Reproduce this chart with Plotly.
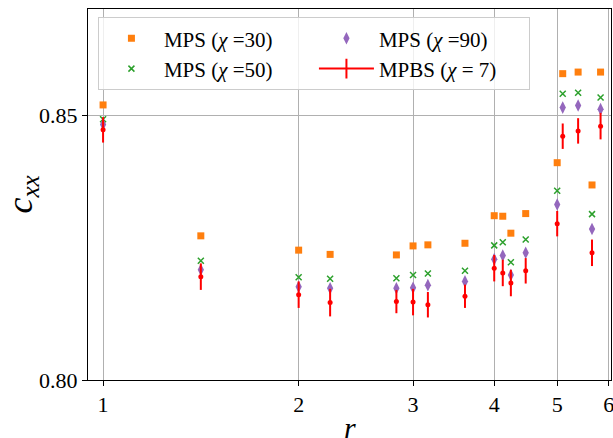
import plotly.graph_objects as go

r = [1.0, 1.414, 2.0, 2.236, 2.828, 3.0, 3.162, 3.606, 4.0, 4.123, 4.243, 4.472, 5.0, 5.099, 5.385, 5.657, 5.831]
chi30 = [0.8519, 0.8272, 0.8245, 0.8237, 0.8236, 0.8253, 0.8255, 0.8258, 0.8310, 0.8309, 0.8277, 0.8314, 0.8410, 0.8578, 0.8581, 0.8368, 0.8581]
chi50 = [0.8492, 0.8225, 0.8194, 0.8191, 0.8192, 0.8198, 0.8201, 0.8206, 0.8254, 0.8260, 0.8222, 0.8265, 0.8357, 0.8540, 0.8542, 0.8313, 0.8533]
chi90 = [0.8482, 0.8208, 0.8176, 0.8173, 0.8173, 0.8174, 0.8179, 0.8186, 0.8228, 0.8235, 0.8198, 0.8240, 0.8331, 0.8514, 0.8518, 0.8285, 0.8511]
mpbs = [0.8472, 0.8195, 0.8161, 0.8146, 0.8148, 0.8147, 0.8142, 0.8158, 0.8211, 0.8202, 0.8183, 0.8206, 0.8295, 0.8460, 0.8470, 0.8240, 0.8479]
mpbs_err = [0.0024, 0.0025, 0.0025, 0.0026, 0.0022, 0.0025, 0.0024, 0.0022, 0.0025, 0.0025, 0.0025, 0.0024, 0.0024, 0.0024, 0.0024, 0.0025, 0.0025]
x_ticks = [1, 2, 3, 4, 5, 6]
y_ticks = [0.80, 0.85]

FONT = "Liberation Serif"
ORANGE = "#ff7f0e"
GREEN = "#2ca02c"
PURPLE = "#9467bd"
RED = "#ff0000"

fig = go.Figure()
fig.add_trace(go.Scatter(x=r, y=chi30, mode="markers", name="MPS (<i>χ</i> =30)",
                         marker=dict(symbol="square", size=7, color=ORANGE), legendrank=1))
fig.add_trace(go.Scatter(x=r, y=chi50, mode="markers", name="MPS (<i>χ</i> =50)",
                         marker=dict(symbol="x-thin-open", size=6, color=GREEN, line=dict(color=GREEN, width=1.5)), legendrank=3))
fig.add_trace(go.Scatter(x=r, y=chi90, mode="markers", name="MPS (<i>χ</i> =90)",
                         marker=dict(symbol="diamond-tall", size=9, color=PURPLE), legendrank=2))
fig.add_trace(go.Scatter(x=r, y=mpbs, mode="markers", name="MPBS (<i>χ</i> = 7)", showlegend=False,
                         marker=dict(symbol="circle", size=5, color=RED),
                         error_y=dict(type="data", array=mpbs_err, color=RED, thickness=2, width=0)))
fig.add_trace(go.Scatter(x=[None], y=[None], mode="lines+markers", name="MPBS (<i>χ</i> = 7)",
                         line=dict(color=RED, width=2),
                         marker=dict(symbol="line-ns-open", size=14, color=RED, line=dict(color=RED, width=2)),
                         legendrank=4))

fig.add_annotation(text="<i>c</i><sub><i>xx</i></sub>", xref="paper", yref="paper",
                   x=-0.126, y=0.50, xanchor="center", yanchor="middle", textangle=-90,
                   showarrow=False, font=dict(family=FONT, size=36))
fig.add_annotation(text="<i>r</i>", xref="paper", yref="paper",
                   x=(350 - 88) / 523, y=-0.078, xanchor="center", yanchor="top",
                   showarrow=False, font=dict(family=FONT, size=30))

fig.update_layout(
    width=613, height=438,
    margin=dict(l=88, r=2, t=9, b=58, autoexpand=False),
    paper_bgcolor="white", plot_bgcolor="white",
    font=dict(family=FONT, size=22, color="black"),
    showlegend=True,
    legend=dict(orientation="h", x=0.019, y=0.978, xanchor="left", yanchor="top",
                bgcolor="rgba(255,255,255,0.8)", bordercolor="#cccccc", borderwidth=1,
                font=dict(family=FONT, size=21), itemwidth=55, entrywidth=145, tracegroupgap=0),
    xaxis=dict(type="log", range=[-0.0232, 0.7818], tickvals=x_ticks, ticktext=[str(v) for v in x_ticks],
               showgrid=True, gridcolor="#b0b0b0", gridwidth=1, automargin=False,
               ticklabeloverflow="allow",
               showline=True, linecolor="black", linewidth=1, mirror=True,
               ticks="outside", ticklen=5, tickcolor="black", zeroline=False),
    yaxis=dict(range=[0.80, 0.870], tickvals=y_ticks, tickformat=".2f",
               showgrid=True, gridcolor="#b0b0b0", gridwidth=1, automargin=False,
               showline=True, linecolor="black", linewidth=1, mirror=True,
               ticks="outside", ticklen=5, tickcolor="black", zeroline=False),
)

fig.write_html("out.html", config={"displayModeBar": False},
               post_script="document.body.style.margin='0';document.body.style.overflow='hidden';")
